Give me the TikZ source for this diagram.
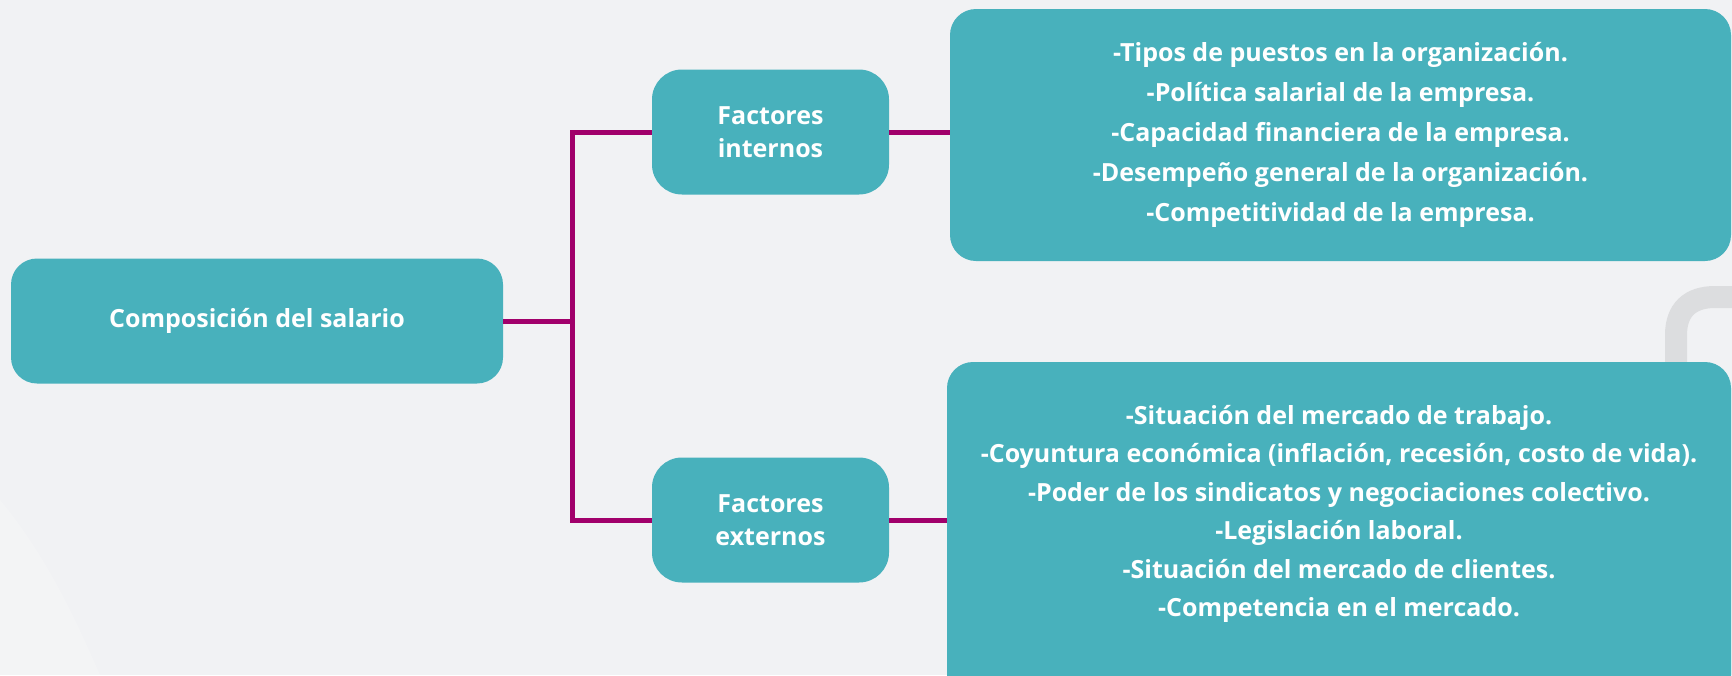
\documentclass[tikz,border=0pt]{standalone}
\usepackage{fontspec}
\setmainfont{Open Sans}
\definecolor{bgc}{HTML}{F1F2F4}
\definecolor{tealc}{HTML}{48B1BC}
\definecolor{magc}{HTML}{A1006B}
\definecolor{arcc}{HTML}{DCDDDF}
\begin{document}
\begin{tikzpicture}[x=1pt,y=-1pt,
  box/.style={fill=tealc, text=white, align=center, inner sep=0pt},
  txt/.style={font=\bfseries\fontsize{25}{40}\selectfont},
  link/.style={draw=magc, line width=5pt}]
\fill[bgc] (0,0) rectangle (1732,675);
\useasboundingbox (0,0) rectangle (1732,675);
% faint background decorations
\fill[white, opacity=0.18] (0,500) .. controls (50,560) and (80,630) .. (100,675) -- (0,675) -- cycle;
\draw[arcc, line width=22pt] (1676,380) -- (1676,335) .. controls (1676,310) and (1690,297) .. (1715,297) -- (1745,297);
% nodes
\node[box, txt, rounded corners=26pt, minimum width=492pt, minimum height=125pt] (comp) at (257,321) {Composición del salario};
\node[box, rounded corners=30pt, minimum width=237pt, minimum height=125pt,
      font=\bfseries\fontsize{25}{33}\selectfont] (fi) at (770.5,132) {Factores\\internos};
\node[box, rounded corners=30pt, minimum width=237pt, minimum height=125pt,
      font=\bfseries\fontsize{25}{33}\selectfont] (fe) at (770.5,520) {Factores\\externos};
\node[box, txt, rounded corners=26pt, minimum width=781pt, minimum height=252pt] (ibox) at (1340.5,135)
  {-Tipos de puestos en la organización.\\
   -Política salarial de la empresa.\\
   -Capacidad financiera de la empresa.\\
   -Desempeño general de la organización.\\
   -Competitividad de la empresa.};
\node[box, rounded corners=26pt, minimum width=784pt, minimum height=340pt] (ebox) at (1339,532) {};
\node[text=white, align=center, inner sep=0pt, font=\bfseries\fontsize{25}{38.4}\selectfont] (etext) at (1339,514)
  {-Situación del mercado de trabajo.\\
   -Coyuntura económica (inflación, recesión, costo de vida).\\
   -Poder de los sindicatos y negociaciones colectivo.\\
   -Legislación laboral.\\
   -Situación del mercado de clientes.\\
   -Competencia en el mercado.};
% connectors
\coordinate (j) at (572,321);
\draw[link] (comp.east) -- (j);
\draw[link] (fi.west) -| (j) |- (fe.west);
\draw[link] (fi.east) -- (fi.east -| ibox.west);
\draw[link] (fe.east) -- (fe.east -| ebox.west);
\end{tikzpicture}
\end{document}
